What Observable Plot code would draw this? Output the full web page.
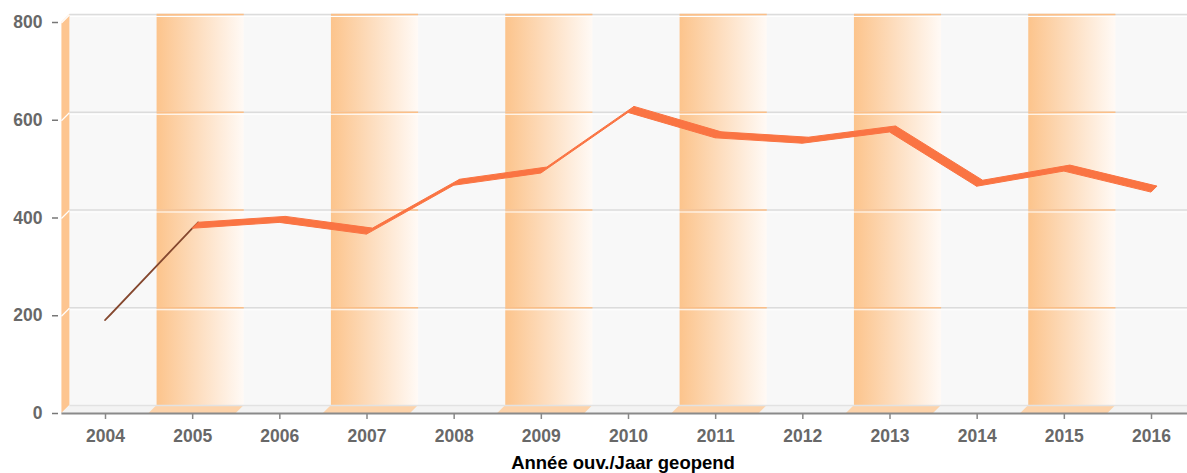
<!DOCTYPE html>
<html>
<head>
<meta charset="utf-8">
<script src="https://cdn.jsdelivr.net/npm/d3@7"></script>
<script src="https://cdn.jsdelivr.net/npm/@observablehq/plot@0.6"></script>
<style>
  body { margin: 0; background: #fff; }
  #chart svg { display: block; }
</style>
</head>
<body>
<div id="chart"></div>
<script>
// Yearly counts, by opening year
const years  = [2004, 2005, 2006, 2007, 2008, 2009, 2010, 2011, 2012, 2013, 2014, 2015, 2016];
const counts = [190, 378, 390, 366, 466, 491, 615, 563, 552, 575, 464, 495, 452];
const yTicks = [0, 200, 400, 600, 800];
const bandYears = [2005, 2007, 2009, 2011, 2013, 2015];
const xTitle = "Année ouv./Jaar geopend";

const data = years.map((year, i) => ({year, count: counts[i]}));

const D = 8;     // depth of the walls, px
const RIB = 6;   // depth of the line ribbon, px
const xLo = years[0] - 0.5;
const xHi = years[years.length - 1] + 0.5;
const yMax = yTicks[yTicks.length - 1];

const ORANGE = "#fa7443";
const BROWN = "#85482f";

// gradient used by the alternating bands
function defs() {
  const g = d3.create("svg:g");
  const grad = g.append("defs").append("linearGradient")
    .attr("id", "bandGrad").attr("x1", 0).attr("x2", 1).attr("y1", 0).attr("y2", 0);
  grad.append("stop").attr("offset", "0%").attr("stop-color", "#fcc48c");
  grad.append("stop").attr("offset", "45%").attr("stop-color", "#fddcbc");
  grad.append("stop").attr("offset", "100%").attr("stop-color", "#fffaf6");
  return g.node();
}

// left side wall and floor of the 3D box
function sideAndFloor(index, {x, y}) {
  const g = d3.create("svg:g");
  const xl = x(xLo), xr = x(xHi), yb = y(0), yt = y(yMax);
  g.append("path")
    .attr("d", `M${xl},${yb}L${xl},${yt}L${xl + D},${yt - D}L${xl + D},${yb - D}Z`)
    .attr("fill", "#fdc590");
  for (const v of yTicks.slice(1)) {
    g.append("line")
      .attr("x1", xl).attr("y1", y(v) + 1)
      .attr("x2", xl + D).attr("y2", y(v) - D + 1)
      .attr("stroke", "#fff").attr("stroke-width", 1.2);
  }
  g.append("path")
    .attr("d", `M${xl},${yb}L${xr},${yb}L${xr + D},${yb - D}L${xl + D},${yb - D}Z`)
    .attr("fill", "#f3f3f3");
  for (const b of bandYears) {
    const a = x(b - 0.5), c = x(b + 0.5);
    g.append("path")
      .attr("d", `M${a},${yb}L${c},${yb}L${c + D},${yb - D}L${a + D},${yb - D}Z`)
      .attr("fill", "#fdd3aa");
  }
  g.append("line")
    .attr("x1", xl + D).attr("x2", xr + D).attr("y1", yb - D + 0.5).attr("y2", yb - D + 0.5)
    .attr("stroke", "#e2e2e2").attr("stroke-width", 1.5);
  return g.node();
}

// the series as an extruded ribbon: top face orange, underside brown
function ribbon(index, {x, y}) {
  const g = d3.create("svg:g");
  const pts = data.map(d => [x(d.year), y(d.count)]);
  for (let i = 0; i < pts.length - 1; i++) {
    const [x1, y1] = pts[i], [x2, y2] = pts[i + 1];
    const m = (y2 - y1) / (x2 - x1);
    const top = RIB * (1 + m) >= 0;
    const face = top ? ORANGE : BROWN;
    g.append("path")
      .attr("d", `M${x1},${y1}L${x2},${y2}L${x2 + RIB},${y2 - RIB}L${x1 + RIB},${y1 - RIB}Z`)
      .attr("fill", face)
      .attr("stroke", face)
      .attr("stroke-width", top ? 1 : 1.6)
      .attr("stroke-linejoin", "round");
  }
  return g.node();
}

const bandGrid = bandYears.flatMap(b => yTicks.slice(1).map(v => ({b, v})));

const chart = Plot.plot({
  width: 1187,
  height: 473,
  marginLeft: 58,
  marginRight: 0,
  marginTop: 22,
  marginBottom: 60,
  style: {fontFamily: "'Liberation Sans', Arial, sans-serif", background: "#fff"},
  x: {type: "linear", domain: [years[0], years[years.length - 1]], range: [105, 1151]},
  y: {type: "linear", domain: [0, yMax], range: [413, 22]},
  marks: [
    defs,
    // back wall
    Plot.rect([0], {x1: () => xLo, x2: () => xHi, y1: () => 0, y2: () => yMax, dx: D, dy: -D, fill: "#f8f8f8"}),
    // alternating year bands
    Plot.rect(bandYears, {x1: d => d - 0.5, x2: d => d + 0.5, y1: () => 0, y2: () => yMax, dx: D, dy: -D, fill: "url(#bandGrad)"}),
    // gridlines on the back wall
    Plot.ruleY(yTicks.slice(1), {x1: () => xLo, x2: () => xHi, dx: D, dy: -D, stroke: "#dcdcdc", strokeWidth: 1.6}),
    Plot.ruleY(yTicks.slice(1), {x1: () => xLo, x2: () => xHi, dx: D, dy: -D + 2, stroke: "#ffffff", strokeWidth: 1}),
    Plot.ruleY(bandGrid, {y: "v", x1: d => d.b - 0.5, x2: d => d.b + 0.5, dx: D, dy: -D, stroke: "#fbbf88", strokeWidth: 1.6}),
    sideAndFloor,
    ribbon,
    // x axis baseline
    Plot.ruleY([0], {x1: () => xLo, x2: () => xHi, stroke: "#8a8a8a", strokeWidth: 2}),
    Plot.axisY({
      ticks: yTicks, tickSize: 6, tickPadding: 10, label: null,
      fontSize: 17.5, fontWeight: "bold", fill: "#686868", stroke: "#777", strokeWidth: 1.5
    }),
    Plot.axisX({
      ticks: years, tickFormat: "d", tickSize: 6, tickPadding: 10, label: null,
      fontSize: 17.5, fontWeight: "bold", fill: "#686868", stroke: "#888", strokeWidth: 1.5
    }),
    Plot.text([xTitle], {
      text: d => d, frameAnchor: "bottom", dy: 50, lineAnchor: "middle",
      fontSize: 18.5, fontWeight: "bold", fill: "#000"
    })
  ]
});

document.getElementById("chart").appendChild(chart);
</script>
</body>
</html>
